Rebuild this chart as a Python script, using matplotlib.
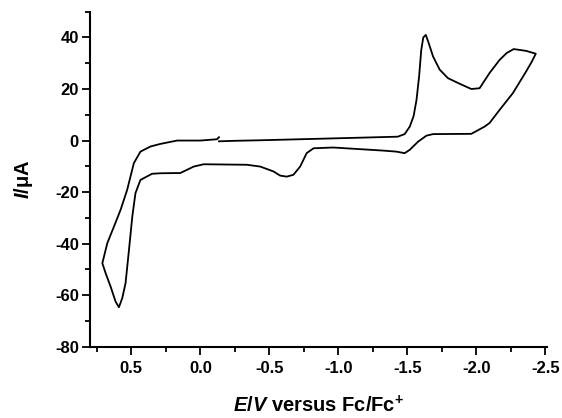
import matplotlib.pyplot as plt
from matplotlib.ticker import MultipleLocator

plt.rcParams['font.family'] = 'Liberation Sans'
plt.rcParams['font.weight'] = 'bold'
plt.rcParams['axes.labelweight'] = 'bold'
plt.rcParams['axes.unicode_minus'] = False
plt.rcParams['mathtext.fontset'] = 'custom'
plt.rcParams['mathtext.rm'] = 'Liberation Sans:bold'
plt.rcParams['mathtext.it'] = 'Liberation Sans:italic:bold'
plt.rcParams['mathtext.bf'] = 'Liberation Sans:bold'

# Cyclic voltammogram (E in V vs Fc/Fc+, I in uA)
potential = [-0.135, -0.25, -0.43, -0.72, -1.15, -1.43, -1.48, -1.517, -1.545,
             -1.566, -1.585, -1.60, -1.615, -1.633, -1.65, -1.686, -1.734,
             -1.794, -1.88, -1.963, -2.023, -2.095, -2.168, -2.22, -2.27,
             -2.36, -2.43, -2.40, -2.36, -2.264, -2.168, -2.095, -2.059,
             -1.963, -1.686, -1.638, -1.578, -1.517, -1.48, -1.42, -1.325,
             -0.963, -0.82, -0.77, -0.723, -0.674, -0.626, -0.578, -0.53,
             -0.434, -0.337, -0.024, 0.048, 0.145, 0.29, 0.35, 0.41, 0.434,
             0.47, 0.493, 0.517, 0.542, 0.566, 0.59, 0.614, 0.65, 0.686,
             0.71, 0.674, 0.626, 0.578, 0.53, 0.482, 0.434, 0.361, 0.289,
             0.168, 0.0, -0.12, -0.135]
current = [-0.3, -0.1, 0.1, 0.5, 1.1, 1.5, 2.5, 5.4, 9.5,
           15.8, 25.0, 35.0, 40.0, 41.0, 38.5, 32.6, 27.5,
           24.2, 22.0, 20.0, 20.3, 26.2, 31.3, 34.0, 35.5,
           34.8, 33.7, 30.5, 26.8, 18.4, 11.9, 6.8, 5.4,
           2.6, 2.5, 1.9, -0.4, -3.6, -4.9, -4.3, -3.9,
           -2.7, -3.0, -4.9, -10.1, -13.3, -14.0, -13.6, -12.0,
           -10.1, -9.4, -9.2, -10.1, -12.6, -12.7, -12.9, -14.6, -15.3,
           -20.4, -29.5, -42.4, -55.4, -61.2, -64.7, -62.5, -56.7, -51.5,
           -47.6, -39.8, -33.4, -26.9, -19.1, -8.8, -4.3, -2.3, -1.3,
           0.0, 0.0, 0.5, 1.3]

fig = plt.figure(figsize=(5.62, 4.18), dpi=100)
ax = fig.add_axes([0.160, 0.1706, 0.813, 0.8014])

ax.plot(potential, current, color='black', linewidth=1.3)

ax.set_xlim(0.8, -2.51)
ax.set_ylim(-80, 50)
ax.xaxis.set_minor_locator(MultipleLocator(0.25))
ax.yaxis.set_minor_locator(MultipleLocator(10))
ax.set_yticks([-80, -60, -40, -20, 0, 20, 40])
ax.set_xticks([0.5, 0.0, -0.5, -1.0, -1.5, -2.0, -2.5])
ax.set_xticklabels(['0.5', '0.0', '-0.5', '-1.0', '-1.5', '-2.0', '-2.5'])

for side in ['top', 'right']:
    ax.spines[side].set_visible(False)
for side in ['left', 'bottom']:
    ax.spines[side].set_linewidth(1.5)

ax.tick_params(which='major', direction='out', length=6, width=1.3,
               labelsize=12, pad=2)
ax.tick_params(axis='x', which='major', pad=4)
ax.tick_params(which='minor', direction='out', length=3.5, width=1.3)

ax.set_xlabel(r'$\it{E/V}$ versus Fc/Fc$^{+}$', fontsize=14.5, labelpad=14)
ax.set_ylabel(r'$\it{I}$/μA', fontsize=14.5, labelpad=14)

plt.savefig('out.png', dpi=100, facecolor='white')
